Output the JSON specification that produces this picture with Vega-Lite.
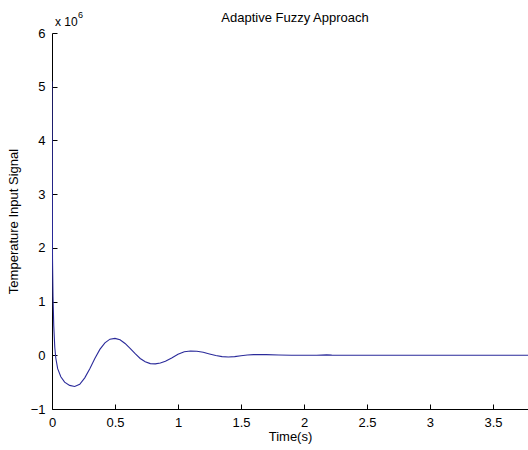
{
  "$schema": "https://vega.github.io/schema/vega-lite/v6.json",
  "width": 476,
  "height": 376,
  "autosize": {"type": "none"},
  "padding": {"left": 52, "top": 33, "right": 0, "bottom": 41},
  "background": "white",
  "title": {"text": "Adaptive Fuzzy Approach", "font": "Liberation Sans", "fontSize": 13, "fontWeight": "normal", "color": "#000000", "offset": -14, "anchor": "middle", "dx": 5},
  "config": {
    "view": {"stroke": null},
    "axis": {"grid": false, "domainColor": "#000000", "tickColor": "#000000", "labelFont": "Liberation Sans", "labelFontSize": 13, "labelColor": "#000000", "titleFont": "Liberation Sans", "titleFontSize": 13, "titleFontWeight": "normal", "titleColor": "#000000", "tickSize": -5}
  },
  "layer": [
    {
      "data": {"values": [
        {"t": 0, "v": 5100000},
        {"t": 0.002, "v": 3800000},
        {"t": 0.004, "v": 1800000},
        {"t": 0.008, "v": 1100000},
        {"t": 0.014, "v": 550000},
        {"t": 0.022, "v": 150000},
        {"t": 0.03, "v": -50000},
        {"t": 0.045, "v": -250000},
        {"t": 0.07, "v": -400000},
        {"t": 0.1, "v": -500000},
        {"t": 0.14, "v": -560000},
        {"t": 0.18, "v": -580000},
        {"t": 0.22, "v": -540000},
        {"t": 0.26, "v": -420000},
        {"t": 0.3, "v": -250000},
        {"t": 0.34, "v": -60000},
        {"t": 0.38, "v": 110000},
        {"t": 0.42, "v": 230000},
        {"t": 0.46, "v": 300000},
        {"t": 0.5, "v": 315000},
        {"t": 0.54, "v": 290000},
        {"t": 0.58, "v": 220000},
        {"t": 0.62, "v": 130000},
        {"t": 0.66, "v": 30000},
        {"t": 0.7, "v": -60000},
        {"t": 0.74, "v": -120000},
        {"t": 0.78, "v": -155000},
        {"t": 0.82, "v": -160000},
        {"t": 0.86, "v": -145000},
        {"t": 0.9, "v": -110000},
        {"t": 0.95, "v": -50000},
        {"t": 1.0, "v": 20000},
        {"t": 1.05, "v": 65000},
        {"t": 1.1, "v": 80000},
        {"t": 1.15, "v": 75000},
        {"t": 1.2, "v": 55000},
        {"t": 1.25, "v": 25000},
        {"t": 1.3, "v": -5000},
        {"t": 1.35, "v": -25000},
        {"t": 1.4, "v": -32000},
        {"t": 1.45, "v": -25000},
        {"t": 1.5, "v": -8000},
        {"t": 1.55, "v": 5000},
        {"t": 1.6, "v": 12000},
        {"t": 1.7, "v": 12000},
        {"t": 1.8, "v": 5000},
        {"t": 1.9, "v": 2000},
        {"t": 2.0, "v": 2000},
        {"t": 2.1, "v": 2000},
        {"t": 2.18, "v": 8000},
        {"t": 2.22, "v": 3000},
        {"t": 2.3, "v": 2000},
        {"t": 2.6, "v": 1000},
        {"t": 3.0, "v": 0},
        {"t": 3.5, "v": 0},
        {"t": 3.78, "v": 0}
      ]},
      "mark": {"type": "line", "color": "#2a2a9a", "strokeWidth": 1.1, "clip": true},
      "encoding": {
        "x": {"field": "t", "type": "quantitative", "scale": {"domain": [0, 3.778], "nice": false, "zero": false}, "axis": {"values": [0, 0.5, 1, 1.5, 2, 2.5, 3, 3.5], "labelExpr": "format(datum.value, '~g')", "title": "Time(s)", "titlePadding": 1, "labelPadding": 12, "labelFlush": false}},
        "y": {"field": "v", "type": "quantitative", "scale": {"domain": [-1000000, 6000000], "nice": false}, "axis": {"values": [-1000000, 0, 1000000, 2000000, 3000000, 4000000, 5000000, 6000000], "labelExpr": "format(datum.value / 1000000, 'd')", "title": "Temperature Input Signal", "titlePadding": 10, "labelPadding": 12}}
      }
    },
    {
      "data": {"values": [{"label": "x 10", "t": 0, "v": 6000000}]},
      "mark": {"type": "text", "font": "Liberation Sans", "fontSize": 12, "align": "left", "baseline": "bottom", "dx": 3, "dy": -4, "color": "#000000"},
      "encoding": {
        "x": {"field": "t", "type": "quantitative"},
        "y": {"field": "v", "type": "quantitative"},
        "text": {"field": "label"}
      }
    },
    {
      "data": {"values": [{"label": "6", "t": 0, "v": 6000000}]},
      "mark": {"type": "text", "font": "Liberation Sans", "fontSize": 9, "align": "left", "baseline": "bottom", "dx": 26, "dy": -13, "color": "#000000"},
      "encoding": {
        "x": {"field": "t", "type": "quantitative"},
        "y": {"field": "v", "type": "quantitative"},
        "text": {"field": "label"}
      }
    }
  ]
}
